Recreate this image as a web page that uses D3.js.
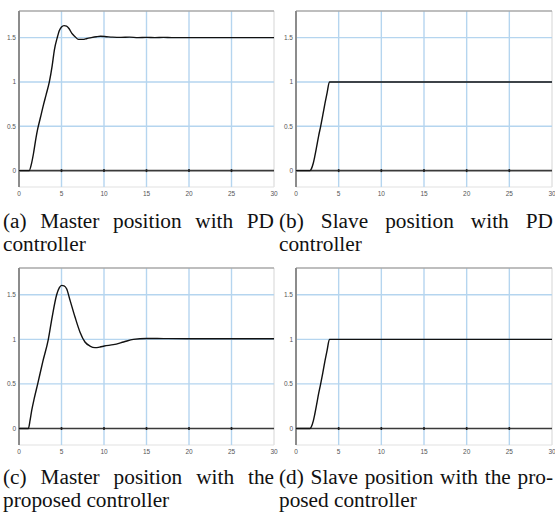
<!DOCTYPE html>
<html><head><meta charset="utf-8">
<script src="https://cdn.jsdelivr.net/npm/d3@7"></script>
<style>html,body{margin:0;padding:0;background:#fff;}svg{display:block;}</style>
</head><body>
<svg id="c" width="555" height="516"></svg>
<script>
// ---- data ----
const xTicks = [0, 5, 10, 15, 20, 25, 30];
const yTicks = [0, 0.5, 1, 1.5];
const yTickLabels = ["0", "0.5", "1", "1.5"];

const masterPD_t = [0, 1.2, 1.45, 1.7, 2.0, 2.2, 2.5, 2.9, 3.2, 3.57, 3.9, 4.16, 4.5, 4.75, 5.0, 5.3, 5.6, 5.9, 6.2, 6.6, 7.0, 7.5, 8.0, 8.5, 9.1, 9.6, 10.3, 11, 12, 13, 14, 15, 16, 17, 18, 30];
const masterPD_y = [0, 0, 0.07, 0.19, 0.37, 0.47, 0.59, 0.75, 0.86, 1.0, 1.18, 1.36, 1.5, 1.58, 1.62, 1.635, 1.63, 1.6, 1.55, 1.51, 1.48, 1.48, 1.49, 1.5, 1.51, 1.515, 1.51, 1.505, 1.502, 1.505, 1.5, 1.503, 1.5, 1.502, 1.5, 1.5];

const slavePD_t = [0, 1.64, 1.8, 2.03, 2.2, 2.42, 2.65, 2.89, 3.15, 3.4, 3.65, 3.92, 30];
const slavePD_y = [0, 0, 0.02, 0.086, 0.16, 0.27, 0.39, 0.5, 0.63, 0.76, 0.88, 1.0, 1.0];

const masterProp_t = [0, 1.1, 1.3, 1.49, 1.8, 2.2, 2.8, 3.45, 3.9, 4.43, 4.75, 5.02, 5.3, 5.6, 6.0, 6.59, 7.18, 7.76, 8.35, 8.94, 9.53, 10.04, 11.1, 12.3, 13.45, 15.0, 17, 20, 25, 30];
const masterProp_y = [0, 0, 0.09, 0.2, 0.34, 0.5, 0.75, 1.0, 1.25, 1.5, 1.58, 1.605, 1.6, 1.567, 1.44, 1.25, 1.08, 0.97, 0.925, 0.907, 0.914, 0.925, 0.94, 0.97, 1.0, 1.01, 1.008, 1.006, 1.006, 1.006];

const slaveProp_t = [0, 1.64, 1.8, 2.03, 2.2, 2.42, 2.65, 2.89, 3.15, 3.4, 3.65, 3.92, 30];
const slaveProp_y = [0, 0, 0.02, 0.086, 0.16, 0.27, 0.39, 0.5, 0.63, 0.76, 0.88, 1.0, 1.0];

const captions = [
  ["(a) Master position with PD", "controller"],
  ["(b) Slave position with PD", "controller"],
  ["(c) Master position with the", "proposed controller"],
  ["(d) Slave position with the pro-", "posed controller"]
];

// ---- drawing ----
const svg = d3.select("#c");
const panels = [
  {t: masterPD_t, y: masterPD_y, l: 19, r: 274, top: 11, bot: 187, cap: captions[0], cx0: 3, cx1: 274, cy: 228},
  {t: slavePD_t, y: slavePD_y, l: 296, r: 552, top: 11, bot: 187, cap: captions[1], cx0: 279, cx1: 553, cy: 228},
  {t: masterProp_t, y: masterProp_y, l: 19, r: 274, top: 268, bot: 445, cap: captions[2], cx0: 3, cx1: 274, cy: 484},
  {t: slaveProp_t, y: slaveProp_y, l: 296, r: 552, top: 268, bot: 445, cap: captions[3], cx0: 279, cx1: 553, cy: 484}
];

panels.forEach(p => {
  const x = d3.scaleLinear().domain([0, 30]).range([p.l, p.r]);
  const y = d3.scaleLinear().domain([-0.185, 1.8]).range([p.bot, p.top]);
  const g = svg.append("g");

  // light right/bottom frame
  g.append("line").attr("x1", p.r).attr("x2", p.r).attr("y1", p.top).attr("y2", p.bot)
    .attr("stroke", "#dcdcdc").attr("stroke-width", 1.2);
  g.append("line").attr("x1", p.l).attr("x2", p.r).attr("y1", p.bot).attr("y2", p.bot)
    .attr("stroke", "#e2e2e2").attr("stroke-width", 1.2);

  // grid
  g.selectAll(".vg").data(xTicks.filter(d => d > 0 && d < 30)).join("line")
    .attr("x1", d => x(d)).attr("x2", d => x(d)).attr("y1", p.top).attr("y2", p.bot)
    .attr("stroke", "#b5d5ef").attr("stroke-width", 1.4);
  g.selectAll(".hg").data(yTicks.filter(d => d > 0)).join("line")
    .attr("x1", p.l).attr("x2", p.r).attr("y1", d => y(d)).attr("y2", d => y(d))
    .attr("stroke", "#b5d5ef").attr("stroke-width", 1.4);

  // top frame
  g.append("line").attr("x1", p.l).attr("x2", p.r).attr("y1", p.top).attr("y2", p.top)
    .attr("stroke", "#a8a8a8").attr("stroke-width", 1.6);

  // zero line with ticks
  g.append("line").attr("x1", p.l).attr("x2", p.r).attr("y1", y(0)).attr("y2", y(0))
    .attr("stroke", "#3a3a3a").attr("stroke-width", 1.6);
  g.selectAll(".zt").data(xTicks.filter(d => d > 0 && d < 30)).join("line")
    .attr("x1", d => x(d)).attr("x2", d => x(d)).attr("y1", y(0) - 1.5).attr("y2", y(0) + 1.5)
    .attr("stroke", "#222").attr("stroke-width", 1.6);

  // left axis
  g.append("line").attr("x1", p.l).attr("x2", p.l).attr("y1", p.top).attr("y2", p.bot)
    .attr("stroke", "#8c8c8c").attr("stroke-width", 2);

  // curve
  const pts = p.t.map((t, i) => [t, p.y[i]]);
  g.append("path").datum(pts)
    .attr("d", d3.line().x(d => x(d[0])).y(d => y(d[1])).curve(d3.curveMonotoneX))
    .attr("fill", "none").attr("stroke", "#111").attr("stroke-width", 1.4);

  // tick labels
  g.selectAll(".xl").data(xTicks).join("text")
    .attr("x", d => x(d)).attr("y", p.bot + 9)
    .attr("text-anchor", "middle").attr("font-family", "Liberation Sans, Arial, sans-serif")
    .attr("font-size", 6.5).attr("fill", "#555").text(d => d);
  g.selectAll(".yl").data(yTicks).join("text")
    .attr("x", p.l - 3).attr("y", d => y(d) + 2.3)
    .attr("text-anchor", "end").attr("font-family", "Liberation Sans, Arial, sans-serif")
    .attr("font-size", 6.5).attr("fill", "#555").text((d, i) => yTickLabels[i]);

  // caption: first line justified, second left
  const fs = 21.3;
  const words = p.cap[0].split(" ");
  const tmp = words.map(w => g.append("text").attr("font-family", "Liberation Serif, Times New Roman, serif")
    .attr("font-size", fs).attr("fill", "#111").attr("y", p.cy).text(w));
  const widths = tmp.map(s => s.node().getComputedTextLength());
  const total = d3.sum(widths);
  const gap = Math.max(fs * 0.22, (p.cx1 - p.cx0 - total) / (words.length - 1));
  let cx = p.cx0;
  tmp.forEach((s, i) => { s.attr("x", cx); cx += widths[i] + gap; });
  g.append("text").attr("font-family", "Liberation Serif, Times New Roman, serif")
    .attr("font-size", fs).attr("fill", "#111").attr("x", p.cx0).attr("y", p.cy + 22.5).text(p.cap[1]);
});
</script>
</body></html>
